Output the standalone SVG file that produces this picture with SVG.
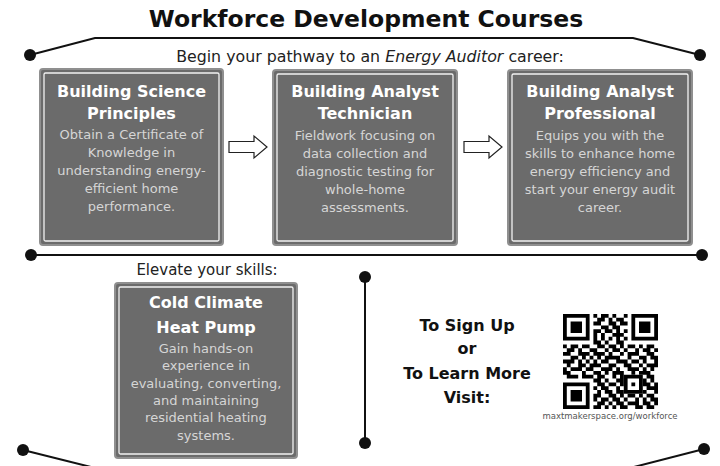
<svg xmlns="http://www.w3.org/2000/svg" width="720" height="466" viewBox="0 0 720 466">
<style>
  .title{font-family:"DejaVu Sans",sans-serif;font-weight:bold;font-size:23.5px;fill:#111;text-anchor:middle}
  .sub{font-family:"DejaVu Sans",sans-serif;font-size:15px;fill:#222;text-anchor:middle}
  .sub2{font-family:"DejaVu Sans",sans-serif;font-size:15.8px;fill:#222;text-anchor:middle}
  .bt{font-family:"DejaVu Sans",sans-serif;font-weight:bold;font-size:16px;fill:#fff;text-anchor:middle}
  .bd{font-family:"DejaVu Sans",sans-serif;font-size:13px;fill:#d6d6d6;text-anchor:middle}
  .ct{font-family:"DejaVu Sans",sans-serif;font-weight:bold;font-size:16px;fill:#111;text-anchor:middle}
  .url{font-family:"DejaVu Sans",sans-serif;font-size:8.5px;fill:#555;text-anchor:middle}
  .outer{fill:#6b6b6b;stroke:#8f8f8f;stroke-width:2}
  .inner{fill:none;stroke:#f2f2f2;stroke-width:1.3}
  .ln{fill:none;stroke:#111;stroke-width:2}
  .dot{fill:#111}
  .arr{fill:#fff;stroke:#222;stroke-width:1.2;stroke-linejoin:miter}
</style>
<defs>
  <path id="arrow" d="M0 -5.5 H25 V-11 L38 0 L25 11 V5.5 H0 Z"/>
</defs>
<rect width="720" height="466" fill="#fff"/>

<g id="connectors">
  <polyline class="ln" points="30,55 95,38 633,38 700,55"/>
  <line class="ln" x1="31" y1="255" x2="702" y2="255"/>
  <line class="ln" x1="365" y1="277" x2="365" y2="443"/>
  <line class="ln" x1="23" y1="450" x2="95" y2="468"/>
  <line class="ln" x1="704" y1="449" x2="630" y2="468"/>
  <circle class="dot" cx="30" cy="55" r="6"/>
  <circle class="dot" cx="700" cy="55" r="6"/>
  <circle class="dot" cx="31" cy="255" r="6"/>
  <circle class="dot" cx="702" cy="255" r="6"/>
  <circle class="dot" cx="365" cy="277" r="6"/>
  <circle class="dot" cx="365" cy="443" r="6"/>
  <circle class="dot" cx="23" cy="450" r="6"/>
  <circle class="dot" cx="704" cy="449" r="6"/>
  <use href="#arrow" class="arr" transform="translate(229,147)"/>
  <use href="#arrow" class="arr" transform="translate(464,147)"/>
</g>

<g id="header">
  <text class="title" x="366" y="27">Workforce Development Courses</text>
  <text class="sub2" x="370" y="62">Begin your pathway to an <tspan font-style="italic">Energy Auditor</tspan> career:</text>
</g>

<g id="node-bsp">
  <rect class="outer" x="40" y="69" width="183" height="176" rx="3"/>
  <rect class="inner" x="44" y="73" width="175" height="168" rx="1.5"/>
  <text class="bt" x="131.5" y="97">Building Science</text>
  <text class="bt" x="131.5" y="119">Principles</text>
  <text class="bd" x="131.5" y="139">Obtain a Certificate of</text>
  <text class="bd" x="131.5" y="157">Knowledge in</text>
  <text class="bd" x="131.5" y="175">understanding energy-</text>
  <text class="bd" x="131.5" y="193">efficient home</text>
  <text class="bd" x="131.5" y="211">performance.</text>
</g>

<g id="node-bat">
  <rect class="outer" x="273" y="70" width="184" height="175" rx="3"/>
  <rect class="inner" x="277" y="74" width="176" height="167" rx="1.5"/>
  <text class="bt" x="365" y="97">Building Analyst</text>
  <text class="bt" x="365" y="119">Technician</text>
  <text class="bd" x="365" y="140">Fieldwork focusing on</text>
  <text class="bd" x="365" y="158">data collection and</text>
  <text class="bd" x="365" y="176">diagnostic testing for</text>
  <text class="bd" x="365" y="194">whole-home</text>
  <text class="bd" x="365" y="212">assessments.</text>
</g>

<g id="node-bap">
  <rect class="outer" x="508" y="70" width="184" height="175" rx="3"/>
  <rect class="inner" x="512" y="74" width="176" height="167" rx="1.5"/>
  <text class="bt" x="600" y="97">Building Analyst</text>
  <text class="bt" x="600" y="119">Professional</text>
  <text class="bd" x="600" y="140">Equips you with the</text>
  <text class="bd" x="600" y="158">skills to enhance home</text>
  <text class="bd" x="600" y="176">energy efficiency and</text>
  <text class="bd" x="600" y="194">start your energy audit</text>
  <text class="bd" x="600" y="212">career.</text>
</g>

<g id="elevate">
  <text class="sub" x="207" y="275">Elevate your skills:</text>
</g>

<g id="node-cchp">
  <rect class="outer" x="115" y="283" width="182" height="175" rx="3"/>
  <rect class="inner" x="119" y="287" width="174" height="167" rx="1.5"/>
  <text class="bt" x="206" y="308">Cold Climate</text>
  <text class="bt" x="206" y="333">Heat Pump</text>
  <text class="bd" x="206" y="353">Gain hands-on</text>
  <text class="bd" x="206" y="370">experience in</text>
  <text class="bd" x="206" y="388">evaluating, converting,</text>
  <text class="bd" x="206" y="405">and maintaining</text>
  <text class="bd" x="206" y="422">residential heating</text>
  <text class="bd" x="206" y="440">systems.</text>
</g>

<g id="contact">
  <text class="ct" x="467" y="331">To Sign Up</text>
  <text class="ct" x="467" y="354">or</text>
  <text class="ct" x="467" y="379">To Learn More</text>
  <text class="ct" x="467" y="403">Visit:</text>
</g>

<g id="qr">
  <g transform="translate(563,314) scale(3.8)" fill="#000">
    <path fill-rule="evenodd" d="M0 0h7v7h-7z M1 1v5h5v-5z M2 2h3v3h-3z M18 0h7v7h-7z M19 1v5h5v-5z M20 2h3v3h-3z M0 18h7v7h-7z M1 19v5h5v-5z M2 20h3v3h-3z M16 16h5v5h-5z M17 17v3h3v-3z M18 18h1v1h-1z"/>
    <path d="M8 0h1v1h-1z M10 0h2v1h-2z M13 0h1v1h-1z M16 0h1v1h-1z
M9 1h2v1h-2z M12 1h1v1h-1z M14 1h2v1h-2z
M8 2h2v1h-2z M12 2h2v1h-2z M15 2h2v1h-2z
M10 3h2v1h-2z M13 3h2v1h-2z
M8 4h2v1h-2z M11 4h2v1h-2z M14 4h1v1h-1z M16 4h1v1h-1z
M8 5h1v1h-1z M10 5h1v1h-1z M13 5h3v1h-3z
M8 6h1v1h-1z M10 6h1v1h-1z M12 6h1v1h-1z M14 6h1v1h-1z M16 6h1v1h-1z
M8 7h2v1h-2z M11 7h1v1h-1z M14 7h2v1h-2z
M0 8h1v1h-1z M2 8h2v1h-2z M5 8h2v1h-2z M9 8h2v1h-2z M12 8h2v1h-2z M15 8h1v1h-1z M17 8h2v1h-2z M20 8h1v1h-1z M22 8h2v1h-2z
M1 9h2v1h-2z M4 9h1v1h-1z M7 9h2v1h-2z M11 9h1v1h-1z M13 9h2v1h-2z M16 9h1v1h-1z M19 9h1v1h-1z M21 9h2v1h-2z M24 9h1v1h-1z
M0 10h2v1h-2z M4 10h3v1h-3z M8 10h3v1h-3z M12 10h1v1h-1z M15 10h1v1h-1z M17 10h3v1h-3z M22 10h2v1h-2z
M2 11h2v1h-2z M5 11h1v1h-1z M7 11h1v1h-1z M9 11h1v1h-1z M11 11h4v1h-4z M17 11h1v1h-1z M20 11h2v1h-2z M23 11h2v1h-2z
M0 12h3v1h-3z M4 12h1v1h-1z M6 12h1v1h-1z M8 12h1v1h-1z M10 12h2v1h-2z M14 12h3v1h-3z M18 12h2v1h-2z M21 12h1v1h-1z M24 12h1v1h-1z
M1 13h1v1h-1z M4 13h2v1h-2z M7 13h3v1h-3z M12 13h2v1h-2z M16 13h2v1h-2z M20 13h1v1h-1z M22 13h3v1h-3z
M0 14h1v1h-1z M2 14h3v1h-3z M6 14h2v1h-2z M10 14h3v1h-3z M14 14h1v1h-1z M17 14h3v1h-3z M21 14h1v1h-1z M23 14h1v1h-1z
M0 15h2v1h-2z M5 15h1v1h-1z M8 15h2v1h-2z M11 15h1v1h-1z M13 15h3v1h-3z M18 15h1v1h-1z M20 15h3v1h-3z
M1 16h3v1h-3z M5 16h3v1h-3z M9 16h2v1h-2z M13 16h1v1h-1z M15 16h1v1h-1z M22 16h2v1h-2z
M8 17h2v1h-2z M11 17h1v1h-1z M14 17h2v1h-2z M21 17h1v1h-1z M23 17h1v1h-1z
M9 18h2v1h-2z M12 18h2v1h-2z M15 18h1v1h-1z M21 18h2v1h-2z M24 18h1v1h-1z
M8 19h1v1h-1z M10 19h2v1h-2z M14 19h1v1h-1z M22 19h3v1h-3z
M9 20h1v1h-1z M11 20h2v1h-2z M14 20h2v1h-2z M21 20h1v1h-1z M24 20h1v1h-1z
M8 21h2v1h-2z M12 21h2v1h-2z M15 21h1v1h-1z M17 21h2v1h-2z M20 21h1v1h-1z M22 21h2v1h-2z
M8 22h1v1h-1z M10 22h2v1h-2z M13 22h2v1h-2z M16 22h1v1h-1z M19 22h1v1h-1z M21 22h1v1h-1z M23 22h2v1h-2z
M9 23h2v1h-2z M12 23h1v1h-1z M14 23h2v1h-2z M17 23h3v1h-3z M21 23h2v1h-2z M24 23h1v1h-1z
M8 24h2v1h-2z M11 24h1v1h-1z M13 24h1v1h-1z M15 24h2v1h-2z M19 24h2v1h-2z M22 24h2v1h-2z"/>
  </g>
  <text class="url" x="610" y="419">maxtmakerspace.org/workforce</text>
</g>
</svg>
